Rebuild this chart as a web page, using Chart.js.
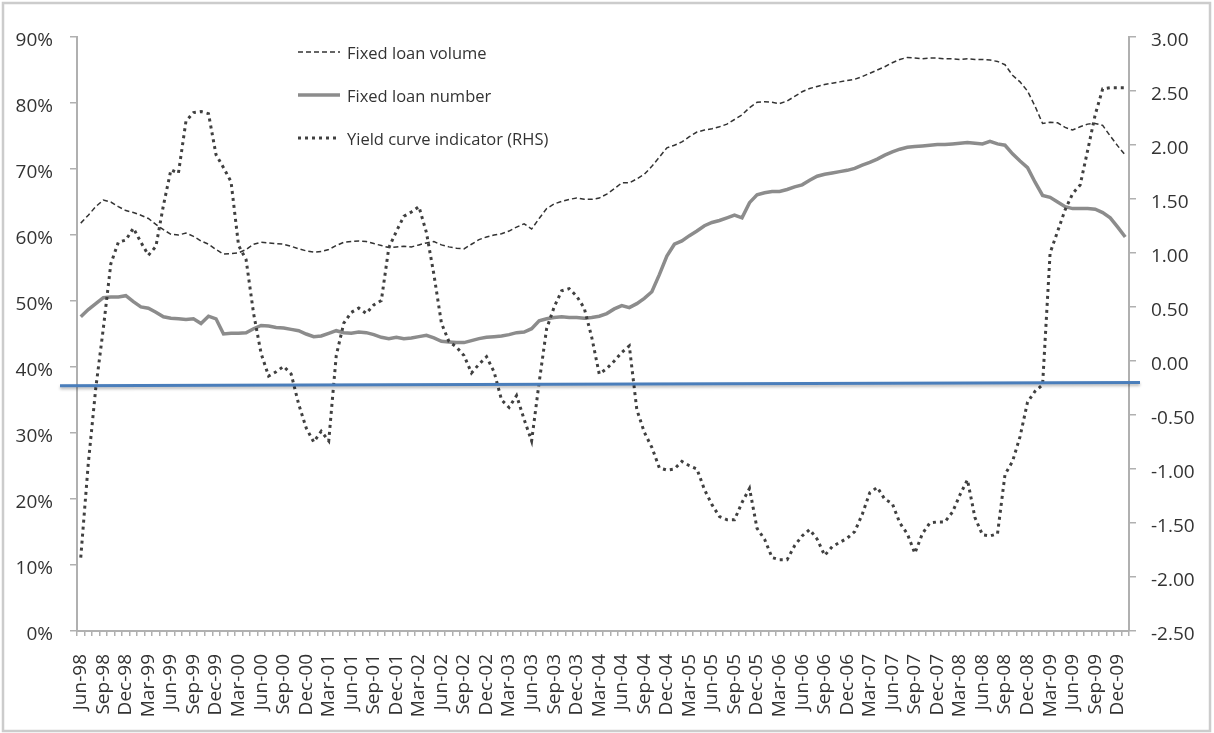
<!DOCTYPE html>
<html>
<head>
<meta charset="utf-8">
<script src="https://cdn.jsdelivr.net/npm/chart.js@4/dist/chart.umd.min.js"></script>
<style>
  html, body { margin: 0; padding: 0; background: #ffffff; }
  #wrap { position: relative; width: 1214px; height: 733px; }
  canvas { display: block; }
</style>
</head>
<body>
<div id="wrap"><canvas id="chart" width="1214" height="733"></canvas></div>
<script>
// Monthly observations, Jun-98 through Jan-10
const MONTH_NAMES = ['Jan','Feb','Mar','Apr','May','Jun','Jul','Aug','Sep','Oct','Nov','Dec'];
const START_YEAR = 1998, START_MONTH = 5, MONTH_COUNT = 140;
const months = [];
for (let k = 0; k < MONTH_COUNT; k++) {
  const m = (START_MONTH + k) % 12;
  const y = START_YEAR + Math.floor((START_MONTH + k) / 12);
  months.push(MONTH_NAMES[m] + '-' + String(y % 100).padStart(2, '0'));
}

// Share of fixed-rate loans by value (%)
const fixedVolume = [
  61.8, 63.0, 64.3, 65.3, 65.0, 64.3, 63.7, 63.4, 63.0, 62.5,
  61.6, 60.8, 60.1, 60.0, 60.3, 59.8, 59.1, 58.6, 57.8, 57.1,
  57.2, 57.3, 57.8, 58.6, 58.9, 58.8, 58.7, 58.6, 58.3, 57.9,
  57.6, 57.4, 57.5, 57.8, 58.4, 58.9, 59.0, 59.1, 59.0, 58.7,
  58.4, 58.1, 58.2, 58.3, 58.2, 58.5, 58.8, 59.0, 58.5, 58.2,
  58.0, 57.9, 58.6, 59.3, 59.7, 60.0, 60.2, 60.6, 61.2, 61.7,
  60.9, 62.5, 64.0, 64.7, 65.1, 65.4, 65.6, 65.4, 65.4, 65.6,
  66.2, 67.0, 67.9, 67.9, 68.5, 69.2, 70.4, 71.8, 73.2, 73.6,
  74.1, 74.9, 75.6, 75.9, 76.1, 76.4, 76.8, 77.5, 78.2, 79.3,
  80.1, 80.2, 80.1, 79.9, 80.3, 81.0, 81.7, 82.2, 82.5, 82.8,
  83.0, 83.2, 83.4, 83.6, 84.0, 84.5, 85.0, 85.5, 86.1, 86.6,
  86.9, 86.8, 86.7, 86.8, 86.8, 86.7, 86.7, 86.6, 86.7, 86.6,
  86.6, 86.5, 86.3, 85.8, 84.2, 83.2, 81.8, 79.5, 76.9, 77.1,
  77.0, 76.3, 75.9, 76.4, 76.8, 76.9, 76.6, 75.0, 73.5, 72.1
];

// Share of fixed-rate loans by number (%)
const fixedNumber = [
  47.6, 48.7, 49.6, 50.5, 50.6, 50.6, 50.8, 49.9, 49.1, 48.9,
  48.3, 47.6, 47.4, 47.3, 47.2, 47.3, 46.6, 47.7, 47.3, 45.0,
  45.1, 45.1, 45.2, 45.8, 46.3, 46.2, 46.0, 45.9, 45.7, 45.5,
  45.0, 44.6, 44.7, 45.1, 45.5, 45.2, 45.1, 45.3, 45.2, 44.9,
  44.5, 44.3, 44.5, 44.3, 44.4, 44.6, 44.8, 44.4, 43.9, 43.8,
  43.7, 43.7, 44.0, 44.3, 44.5, 44.6, 44.7, 44.9, 45.2, 45.3,
  45.8, 47.0, 47.3, 47.5, 47.6, 47.5, 47.5, 47.4, 47.5, 47.7,
  48.1, 48.8, 49.3, 49.0, 49.6, 50.4, 51.4, 54.0, 56.8, 58.6,
  59.1, 59.9, 60.6, 61.4, 61.9, 62.2, 62.6, 63.0, 62.6, 64.9,
  66.1, 66.4, 66.6, 66.6, 66.9, 67.3, 67.6, 68.3, 68.9, 69.2,
  69.4, 69.6, 69.8, 70.1, 70.6, 71.0, 71.5, 72.1, 72.6, 73.0,
  73.3, 73.4, 73.5, 73.6, 73.7, 73.7, 73.8, 73.9, 74.0, 73.9,
  73.8, 74.2, 73.8, 73.6, 72.3, 71.2, 70.2, 68.0, 66.0, 65.7,
  65.0, 64.3, 64.0, 64.0, 64.0, 63.9, 63.4, 62.6, 61.2, 59.7
];

// Yield curve indicator, right-hand scale
const yieldCurve = [
  -1.82, -0.95, -0.25, 0.30, 0.90, 1.10, 1.12, 1.23, 1.10, 0.98,
  1.06, 1.44, 1.77, 1.74, 2.22, 2.30, 2.31, 2.29, 1.91, 1.79,
  1.66, 1.07, 0.94, 0.44, 0.07, -0.14, -0.10, -0.05, -0.12, -0.40,
  -0.62, -0.75, -0.65, -0.74, 0.05, 0.35, 0.45, 0.49, 0.44, 0.52,
  0.56, 1.05, 1.20, 1.34, 1.38, 1.43, 1.19, 0.80, 0.35, 0.18,
  0.13, 0.05, -0.11, -0.03, 0.04, -0.10, -0.36, -0.43, -0.32, -0.54,
  -0.74, -0.20, 0.30, 0.50, 0.65, 0.67, 0.60, 0.49, 0.22, -0.12,
  -0.07, 0.00, 0.08, 0.14, -0.45, -0.66, -0.80, -0.99, -1.01, -1.00,
  -0.93, -0.97, -1.00, -1.19, -1.33, -1.44, -1.47, -1.47, -1.31, -1.18,
  -1.55, -1.65, -1.82, -1.84, -1.84, -1.71, -1.62, -1.56, -1.65, -1.80,
  -1.72, -1.68, -1.64, -1.58, -1.42, -1.22, -1.17, -1.28, -1.32, -1.50,
  -1.60, -1.78, -1.60, -1.50, -1.49, -1.49, -1.40, -1.24, -1.10, -1.45,
  -1.61, -1.62, -1.60, -1.05, -0.93, -0.70, -0.38, -0.28, -0.22, 1.00,
  1.20, 1.40, 1.55, 1.63, 1.95, 2.28, 2.52, 2.53, 2.53, 2.53
];

// Reference level marked across the chart (right-hand scale), start and end
const referenceLevel = [-0.23, -0.20];

const seriesNames = ['Fixed loan volume', 'Fixed loan number', 'Yield curve indicator (RHS)'];

const FONT = '"Open Sans", sans-serif';
const TEXT = '#333333';
const AXIS = '#b0b0b0';

// Legend drawn inside the plot area, rows stacked from the top
const innerLegend = {
  id: 'innerLegend',
  afterDraw(chart) {
    const ctx = chart.ctx;
    const a = chart.chartArea;
    const x0 = a.left + 221, x1 = a.left + 263, tx = a.left + 270;
    const rows = [a.top + 15, a.top + 58, a.top + 101];
    chart.data.datasets.forEach((ds, i) => {
      const y = rows[i];
      ctx.save();
      ctx.strokeStyle = ds.borderColor;
      ctx.lineWidth = ds.borderWidth;
      ctx.setLineDash(ds.borderDash || []);
      ctx.beginPath();
      ctx.moveTo(x0, y);
      ctx.lineTo(x1, y);
      ctx.stroke();
      ctx.setLineDash([]);
      ctx.fillStyle = TEXT;
      ctx.font = '16.5px ' + FONT;
      ctx.textBaseline = 'middle';
      ctx.textAlign = 'left';
      ctx.fillText(ds.label, tx, y + 2);
      ctx.restore();
    });
  }
};

// Horizontal reference line on the right-hand scale, with a soft shadow
const referenceLine = {
  id: 'referenceLine',
  afterDatasetsDraw(chart) {
    const ctx = chart.ctx;
    const a = chart.chartArea;
    const y1 = chart.scales.y1;
    ctx.save();
    ctx.strokeStyle = '#4a7ebb';
    ctx.lineWidth = 3;
    ctx.shadowColor = 'rgba(0,0,0,0.28)';
    ctx.shadowBlur = 3;
    ctx.shadowOffsetY = 2;
    ctx.beginPath();
    ctx.moveTo(a.left - 17, y1.getPixelForValue(referenceLevel[0]));
    ctx.lineTo(a.right + 11, y1.getPixelForValue(referenceLevel[1]));
    ctx.stroke();
    ctx.restore();
  }
};

// White background and light frame around the whole figure
const frame = {
  id: 'frame',
  beforeDraw(chart) {
    const ctx = chart.ctx;
    ctx.save();
    ctx.fillStyle = '#ffffff';
    ctx.fillRect(0, 0, chart.width, chart.height);
    ctx.restore();
  },
  afterDraw(chart) {
    const ctx = chart.ctx;
    ctx.save();
    ctx.strokeStyle = '#cccccc';
    ctx.lineWidth = 2.5;
    ctx.strokeRect(3, 3, chart.width - 7, chart.height - 5);
    ctx.restore();
  }
};

new Chart(document.getElementById('chart'), {
  type: 'line',
  data: {
    labels: months,
    datasets: [
      {
        label: seriesNames[0],
        data: fixedVolume,
        yAxisID: 'y',
        borderColor: '#333333',
        borderWidth: 1.5,
        borderDash: [5, 3],
        pointRadius: 0,
        tension: 0,
        order: 3
      },
      {
        label: seriesNames[1],
        data: fixedNumber,
        yAxisID: 'y',
        borderColor: '#8c8c8c',
        borderWidth: 3.5,
        pointRadius: 0,
        tension: 0,
        order: 2
      },
      {
        label: seriesNames[2],
        data: yieldCurve,
        yAxisID: 'y1',
        borderColor: '#404040',
        borderWidth: 3,
        borderDash: [3, 4],
        pointRadius: 0,
        tension: 0,
        order: 1
      }
    ]
  },
  options: {
    responsive: false,
    animation: false,
    devicePixelRatio: 1,
    layout: { padding: { top: 37, left: 0, right: 0, bottom: 0 } },
    plugins: {
      legend: { display: false },
      tooltip: { enabled: false }
    },
    scales: {
      x: {
        type: 'category',
        offset: true,
        grid: {
          offset: true,
          drawOnChartArea: false,
          drawTicks: true,
          tickLength: 5,
          color: AXIS,
          lineWidth: 1.5
        },
        border: { display: true, color: AXIS, width: 2 },
        ticks: {
          autoSkip: false,
          minRotation: 90,
          maxRotation: 90,
          padding: 18,
          color: TEXT,
          font: { family: FONT, size: 19 },
          callback: (v, i) => (i % 3 === 0 ? months[i] : '')
        },
        afterFit: s => { s.height = 102; }
      },
      y: {
        position: 'left',
        min: 0,
        max: 90,
        grid: {
          drawOnChartArea: false,
          drawTicks: true,
          tickLength: 7,
          color: AXIS,
          lineWidth: 1.5
        },
        border: { display: true, color: AXIS, width: 2 },
        ticks: {
          stepSize: 10,
          padding: 17,
          labelOffset: 4,
          color: TEXT,
          font: { family: FONT, size: 19 },
          callback: v => v + '%'
        },
        afterFit: s => { s.width = 77; }
      },
      y1: {
        position: 'right',
        min: -2.5,
        max: 3,
        grid: {
          drawOnChartArea: false,
          drawTicks: true,
          tickLength: 7,
          color: AXIS,
          lineWidth: 1.5
        },
        border: { display: true, color: AXIS, width: 2 },
        ticks: {
          stepSize: 0.5,
          padding: 15,
          labelOffset: 4,
          color: TEXT,
          font: { family: FONT, size: 19 },
          callback: v => Number(v).toFixed(2)
        },
        afterFit: s => { s.width = 85; }
      }
    }
  },
  plugins: [frame, referenceLine, innerLegend]
});
</script>
</body>
</html>
